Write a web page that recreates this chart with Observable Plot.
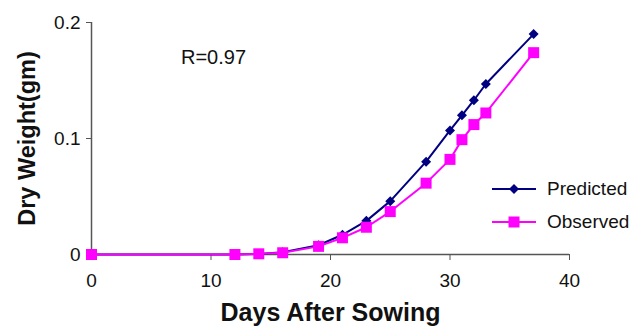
<!DOCTYPE html>
<html>
<head>
<meta charset="utf-8">
<script src="https://cdn.jsdelivr.net/npm/d3@7"></script>
<script src="https://cdn.jsdelivr.net/npm/@observablehq/plot@0.6"></script>
<style>
  body { margin: 0; background: #fff; }
  #wrap { position: relative; width: 634px; height: 327px; font-family: "Liberation Sans", Arial, sans-serif; }
  #legend { position: absolute; left: 490px; top: 172px; font-size: 19px; color: #111; }
  .item { display: flex; align-items: center; height: 33px; }
  .item svg { margin-right: 9px; }
</style>
</head>
<body>
<div id="wrap"></div>
<script>
const days = [0, 12, 14, 16, 19, 21, 23, 25, 28, 30, 31, 32, 33, 37];
const predicted = [0, 0, 0.0005, 0.002, 0.008, 0.017, 0.029, 0.046, 0.080, 0.107, 0.120, 0.133, 0.147, 0.190];
const observed = [0, 0, 0.0006, 0.0015, 0.007, 0.0144, 0.0235, 0.037, 0.0615, 0.082, 0.099, 0.112, 0.122, 0.174];
const seriesNames = ["Predicted", "Observed"];
const seriesColors = ["#000080", "#FF00FF"];
const xTicks = [0, 10, 20, 30, 40];
const yTicks = [0, 0.1, 0.2];
const annotation = "R=0.97";
const xTitle = "Days After Sowing";
const yTitle = "Dry Weight(gm)";

const pred = days.map((d, i) => ({day: d, value: predicted[i]}));
const obs = days.map((d, i) => ({day: d, value: observed[i]}));

const font = "Liberation Sans, Arial, sans-serif";
const axisColor = "#555";

const chart = Plot.plot({
  width: 634,
  height: 327,
  marginLeft: 91,
  marginRight: 65,
  marginTop: 22,
  marginBottom: 73,
  style: {fontFamily: font, background: "#fff", color: "#111", overflow: "visible"},
  x: {domain: [0, 40]},
  y: {domain: [0, 0.2]},
  marks: [
    Plot.axisY({ticks: yTicks, tickFormat: d => String(d), tickSize: 5, tickPadding: 6, fontSize: 19, label: null, stroke: axisColor}),
    Plot.axisX({ticks: xTicks.filter(t => t !== 0), tickSize: 6, tickPadding: 9, fontSize: 19, label: null, stroke: axisColor, text: null}),
    Plot.axisX({ticks: xTicks, tickSize: 0, tickPadding: 19, fontSize: 19, label: null}),
    Plot.ruleX([0], {stroke: axisColor, strokeWidth: 1.5}),
    Plot.ruleY([0], {stroke: axisColor, strokeWidth: 1.5}),
    Plot.line(pred, {x: "day", y: "value", stroke: seriesColors[0], strokeWidth: 2}),
    Plot.dot(pred, {x: "day", y: "value", symbol: "diamond2", r: 4.5, fill: seriesColors[0], stroke: "none"}),
    Plot.line(obs, {x: "day", y: "value", stroke: seriesColors[1], strokeWidth: 2}),
    Plot.dot(obs, {x: "day", y: "value", symbol: "square", r: 6.2, fill: seriesColors[1], stroke: "none"}),
    Plot.text([annotation], {frameAnchor: "top-left", dx: 122, dy: 35, lineAnchor: "middle", text: d => d, fontSize: 20, textAnchor: "middle", fill: "#111"}),
    Plot.text([xTitle], {frameAnchor: "bottom", dy: 58, lineAnchor: "middle", text: d => d, fontSize: 25, fontWeight: "bold", fill: "#111"}),
    Plot.text([yTitle], {frameAnchor: "left", dx: -64, rotate: -90, textAnchor: "middle", lineAnchor: "middle", text: d => d, fontSize: 23.5, fontWeight: "bold", fill: "#111"})
  ]
});

const wrap = document.getElementById("wrap");
wrap.appendChild(chart);

const legend = document.createElement("div");
legend.id = "legend";
seriesNames.forEach((name, i) => {
  const item = document.createElement("div");
  item.className = "item";
  const marker = i === 0
    ? `<path d="M24,-5 L29,0 L24,5 L19,0 Z" fill="${seriesColors[i]}"/>`
    : `<rect x="18.5" y="-5.5" width="11" height="11" fill="${seriesColors[i]}"/>`;
  item.innerHTML = `<svg width="48" height="14" viewBox="0 -7 48 14"><line x1="2" x2="46" y1="0" y2="0" stroke="${seriesColors[i]}" stroke-width="2"/>${marker}</svg><span>${name}</span>`;
  legend.appendChild(item);
});
wrap.appendChild(legend);
</script>
</body>
</html>
